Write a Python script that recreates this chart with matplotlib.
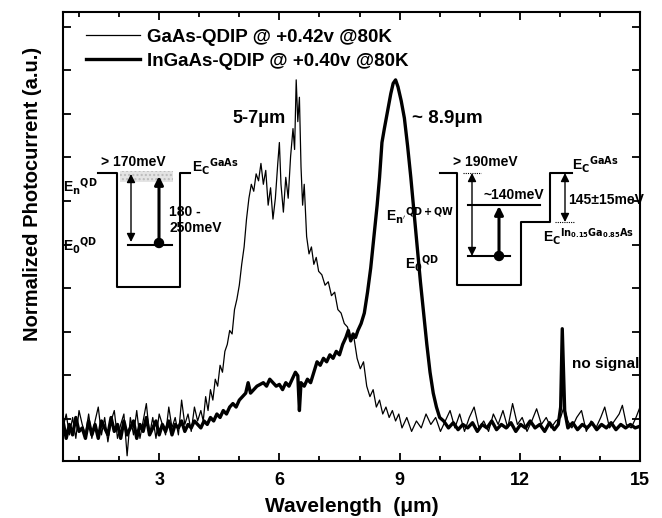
import matplotlib
matplotlib.use("Agg")
import matplotlib.pyplot as plt
from matplotlib.patches import Rectangle, Circle
from matplotlib.ticker import MultipleLocator

plt.rcParams['font.family'] = ['Liberation Sans', 'DejaVu Sans']
plt.rcParams['font.weight'] = 'bold'

# ---- data (normalized photocurrent, baseline ~0, peak = 1) ----
base_wl = [0.60, 0.68, 0.76, 0.84, 0.92, 1.00, 1.08, 1.16, 1.24, 1.32, 1.40,
           1.48, 1.56, 1.64, 1.72, 1.80, 1.88, 1.96, 2.04, 2.12, 2.20, 2.28,
           2.36, 2.44, 2.52, 2.60, 2.68, 2.76, 2.84, 2.92, 3.00, 3.08, 3.16,
           3.24, 3.32, 3.40, 3.48, 3.56, 3.64, 3.72, 3.80, 3.88, 3.96]

gaas_wl = base_wl + [
    4.04, 4.10, 4.16, 4.22, 4.28, 4.34, 4.40, 4.46, 4.52, 4.58, 4.64, 4.70,
    4.76, 4.82, 4.88, 4.94, 5.00, 5.06, 5.12, 5.18, 5.24, 5.30, 5.36, 5.42,
    5.48, 5.54, 5.60, 5.66, 5.72, 5.78, 5.84, 5.90, 5.96, 6.00, 6.04, 6.10,
    6.16, 6.22, 6.28, 6.34, 6.38, 6.42, 6.46, 6.50, 6.54, 6.58, 6.62, 6.68,
    6.74, 6.80, 6.86, 6.92, 6.98, 7.06, 7.14, 7.22, 7.30, 7.38, 7.46, 7.54,
    7.62, 7.70, 7.78, 7.86, 7.94, 8.02, 8.10, 8.18, 8.26, 8.34, 8.42, 8.50,
    8.58, 8.66, 8.74, 8.82, 8.90, 8.98,
    9.06, 9.18, 9.30, 9.42, 9.54, 9.66, 9.78, 9.90, 10.02, 10.14, 10.26,
    10.38, 10.50, 10.62, 10.74, 10.86, 10.98, 11.10, 11.22, 11.34, 11.46,
    11.58, 11.70, 11.82, 11.94, 12.06, 12.18, 12.30, 12.42, 12.54, 12.66,
    12.78, 12.90, 13.02, 13.10, 13.20, 13.30, 13.42, 13.54, 13.66, 13.78,
    13.90, 14.02, 14.12, 14.24, 14.36, 14.48, 14.56, 14.66, 14.78, 14.90,
    15.00]
gaas_pc = [
    0.00, 0.04, -0.02, 0.03, -0.03, 0.05, 0.01, -0.02, 0.04, -0.03, 0.02,
    0.06, -0.02, 0.03, -0.04, 0.02, 0.05, -0.03, 0.01, 0.04, -0.08, 0.03,
    -0.02, 0.05, -0.03, 0.02, 0.07, -0.02, 0.03, -0.03, 0.04, 0.01, -0.02,
    0.06, 0.00, 0.03, -0.02, 0.08, 0.01, 0.04, -0.01, 0.06, 0.02,
    0.05, 0.02, 0.09, 0.05, 0.11, 0.08, 0.14, 0.12, 0.18, 0.16, 0.22, 0.24,
    0.28, 0.27, 0.34, 0.37, 0.41, 0.47, 0.52, 0.60, 0.66, 0.70, 0.68, 0.73,
    0.71, 0.76, 0.70, 0.74, 0.64, 0.69, 0.60, 0.66, 0.76, 0.82, 0.70, 0.62,
    0.72, 0.66, 0.78, 0.86, 0.80, 1.00, 0.88, 0.95, 0.75, 0.64, 0.70, 0.55,
    0.50, 0.52, 0.47, 0.49, 0.45, 0.44, 0.41, 0.42, 0.38, 0.39, 0.34, 0.33,
    0.30, 0.29, 0.25, 0.26, 0.20, 0.17, 0.19, 0.12, 0.09, 0.11, 0.06, 0.08,
    0.04, 0.06, 0.03, 0.05, 0.02, 0.04,
    0.00, 0.03, -0.01, 0.02, 0.00, 0.04, 0.01, 0.03, -0.01, 0.02, 0.05,
    0.00, 0.04, -0.01, 0.03, 0.06, 0.00, 0.02, -0.01, 0.04, 0.01,
    0.05, 0.00, 0.07, 0.01, 0.03, -0.01, 0.02, 0.055, 0.01, 0.03,
    0.00, 0.02, 0.03, 0.06, 0.02, 0.00, 0.03, 0.05, -0.01, 0.02,
    0.00, 0.03, 0.06, 0.00, 0.02, 0.04, 0.065, 0.01, 0.00, 0.03,
    0.06]

ingaas_wl = base_wl + [
    4.04, 4.12, 4.20, 4.28, 4.36, 4.44, 4.52, 4.60, 4.68, 4.76, 4.84, 4.92,
    5.00, 5.08, 5.16, 5.22, 5.28, 5.36, 5.44, 5.52, 5.60, 5.68, 5.76, 5.84,
    5.92, 6.00, 6.08, 6.16, 6.24, 6.32, 6.40, 6.46, 6.50, 6.54, 6.62, 6.70,
    6.78, 6.86, 6.94, 7.02, 7.10, 7.18, 7.26, 7.34, 7.42, 7.50, 7.58, 7.66,
    7.72, 7.78, 7.84, 7.90, 7.96, 8.04, 8.12, 8.20, 8.28, 8.36, 8.44, 8.50,
    8.56, 8.62, 8.70, 8.78, 8.84, 8.90, 8.96, 9.04, 9.12, 9.20, 9.28, 9.36,
    9.44, 9.52, 9.60, 9.68, 9.76, 9.84, 9.92, 10.00, 10.10, 10.22, 10.34,
    10.46, 10.58, 10.70, 10.82, 10.94, 11.06, 11.18, 11.30, 11.42, 11.54,
    11.66, 11.78, 11.90, 12.02, 12.14, 12.26, 12.38, 12.50, 12.62, 12.74,
    12.86, 12.96, 13.02, 13.06, 13.12, 13.20, 13.32, 13.44, 13.56, 13.68,
    13.80, 13.92, 14.04, 14.16, 14.28, 14.40, 14.52, 14.64, 14.76, 14.88,
    15.00]
ingaas_pc = [
    0.02, -0.03, 0.01, -0.02, 0.03, -0.01, 0.00, -0.03, 0.02, -0.02, 0.01,
    -0.03, 0.02, 0.00, -0.02, 0.03, -0.01, 0.01, -0.03, 0.02, -0.02, 0.00,
    0.02, -0.03, 0.01, -0.01, 0.03, -0.02, 0.00, 0.02, -0.02, 0.01, -0.01,
    0.02, -0.02, 0.01, 0.00, 0.02, -0.01, 0.01, 0.00, 0.02, 0.01,
    0.00, 0.02, 0.01, 0.03, 0.02, 0.04, 0.03, 0.05, 0.04, 0.06, 0.07, 0.06,
    0.08, 0.09, 0.10, 0.13, 0.10, 0.11, 0.12, 0.125, 0.13, 0.12, 0.14, 0.13,
    0.12, 0.125, 0.11, 0.13, 0.12, 0.14, 0.16, 0.15, 0.05, 0.13, 0.12, 0.14,
    0.13, 0.16, 0.19, 0.18, 0.20, 0.19, 0.21, 0.20, 0.22, 0.21, 0.24, 0.26,
    0.28, 0.25, 0.27, 0.26, 0.28, 0.30, 0.33, 0.39, 0.46, 0.55, 0.64, 0.72,
    0.82, 0.86, 0.91, 0.96, 0.99, 1.00, 0.98, 0.94, 0.89, 0.81, 0.72, 0.62,
    0.52, 0.42, 0.33, 0.24, 0.16, 0.10, 0.06, 0.03, 0.02, 0.00, 0.015,
    -0.005, 0.01, 0.00, 0.015, -0.01, 0.01, 0.00, 0.02, -0.005, 0.01,
    0.00, 0.015, -0.01, 0.01, 0.00, 0.02, 0.00, 0.01, -0.01, 0.015,
    -0.005, 0.01, 0.06, 0.285, 0.05, 0.00, 0.015, -0.005, 0.01, 0.00,
    0.015, -0.005, 0.01, 0.00, 0.015, -0.005, 0.01, 0.00, 0.01, 0.00,
    0.005]

legend_labels = ["GaAs-QDIP @ +0.42v @80K", "InGaAs-QDIP @ +0.40v @80K"]

W, H = 662, 518
fig = plt.figure(figsize=(W / 100, H / 100), dpi=100)
ax = fig.add_axes([63 / W, (H - 461) / H, 577 / W, 449 / H])

ax.plot(gaas_wl, gaas_pc, color='black', lw=0.9, label=legend_labels[0])
ax.plot(ingaas_wl, ingaas_pc, color='black', lw=2.4, label=legend_labels[1])

ax.set_xlim(0.6, 15.0)
ax.set_ylim(-0.095, 1.195)
ax.xaxis.set_major_locator(MultipleLocator(3))
ax.xaxis.set_minor_locator(MultipleLocator(1))
ax.yaxis.set_major_locator(MultipleLocator(0.125, offset=0.027))
ax.set_yticklabels([])
ax.tick_params(which='both', direction='in', top=True, right=True, width=1.3)
ax.tick_params(which='major', length=6, labelsize=13, pad=8)
ax.tick_params(which='minor', length=3.5)
for lab in ax.get_xticklabels():
    lab.set_fontweight('bold')
for s in ax.spines.values():
    s.set_linewidth(1.5)

ax.set_xlabel("Wavelength  (\u03bcm)", fontsize=15, fontweight='bold', labelpad=6)
fig.text(33 / W, 1 - 194 / H, "Normalized Photocurrent (a.u.)", rotation=90,
         ha='center', va='center', fontsize=14.5, fontweight='bold')

ax.legend(loc='upper left', bbox_to_anchor=(0.01, 1.0), frameon=False,
          handlelength=2.9, handletextpad=0.35, labelspacing=0.35,
          prop={'weight': 'bold', 'size': 13.5})

ax.text(6.15, 0.89, "5-7\u03bcm", fontsize=13, fontweight='bold', ha='right', va='center')
ax.text(9.3, 0.89, "~ 8.9\u03bcm", fontsize=13.5, fontweight='bold', ha='left', va='center')
ax.text(13.3, 0.185, "no signal", fontsize=11, fontweight='bold', ha='left', va='center')

# ---- band diagram insets (figure pixel coordinates) ----
ov = fig.add_axes([0, 0, 1, 1], facecolor='none')
ov.set_xlim(0, W)
ov.set_ylim(H, 0)
ov.axis('off')

def arrow(x, y0, y1, lw, both=False):
    st = '<|-|>' if both else '-|>'
    ov.annotate('', xy=(x, y1), xytext=(x, y0),
                arrowprops=dict(arrowstyle=st + ',head_length=0.5,head_width=0.25',
                                lw=lw, color='black', shrinkA=0, shrinkB=0))

# left inset: GaAs QD
ov.plot([98, 117, 117, 180, 180, 190], [173, 173, 287, 287, 173, 173], color='black', lw=1.5)
ov.add_patch(Rectangle((120, 171), 53, 11, facecolor='#e4e4e4', edgecolor='#bbbbbb',
                       hatch='....', lw=0))
ov.plot([128, 172], [245, 245], color='black', lw=1.5)
ov.add_patch(Circle((159, 243), 4.5, color='black'))
arrow(131, 242, 174, 1.0, both=True)
arrow(159, 240, 176, 2.2)
ov.text(133, 162, "> 170meV", fontsize=10, fontweight='bold', ha='center', va='center')
ov.text(192, 166, "E$_{\\mathbf{C}}$$^{\\mathbf{GaAs}}$", fontsize=10, fontweight='bold', ha='left', va='center')
ov.text(80, 186, "E$_{\\mathbf{n}}$$^{\\mathbf{QD}}$", fontsize=10, fontweight='bold', ha='center', va='center')
ov.text(80, 246, "E$_{\\mathbf{0}}$$^{\\mathbf{QD}}$", fontsize=10, fontweight='bold', ha='center', va='center')
ov.text(169, 212, "180 -", fontsize=10, fontweight='bold', ha='left', va='center')
ov.text(169, 228, "250meV", fontsize=10, fontweight='bold', ha='left', va='center')

# right inset: InGaAs QD in well
ov.plot([440, 457, 457, 521, 521, 550, 550, 572],
        [173, 173, 285, 285, 222, 222, 173, 173], color='black', lw=1.5)
ov.plot([463, 481], [173, 173], color='black', lw=0.8, ls=(0, (1, 1)))
ov.plot([555, 574], [222, 222], color='black', lw=0.8, ls=(0, (1, 1)))
ov.plot([468, 540], [205, 205], color='black', lw=1.5)
ov.plot([468, 510], [256, 256], color='black', lw=1.5)
ov.add_patch(Circle((499, 256), 4.5, color='black'))
arrow(472, 256, 173, 1.0, both=True)
arrow(499, 254, 206, 2.2)
arrow(565, 222, 173, 1.0, both=True)
ov.text(453, 162, "> 190meV", fontsize=10, fontweight='bold', ha='left', va='center')
ov.text(483, 195, "~140meV", fontsize=10, fontweight='bold', ha='left', va='center')
ov.text(572, 164, "E$_{\\mathbf{C}}$$^{\\mathbf{GaAs}}$", fontsize=10, fontweight='bold', ha='left', va='center')
ov.text(568, 200, "145\u00b115meV", fontsize=10, fontweight='bold', ha='left', va='center')
ov.text(543, 236, "E$_{\\mathbf{C}}$$^{\\mathbf{In_{0.15}Ga_{0.85}As}}$", fontsize=10, fontweight='bold', ha='left', va='center')
ov.text(420, 215, "E$_{\\mathbf{n'}}$$^{\\mathbf{QD+QW}}$", fontsize=10, fontweight='bold', ha='center', va='center')
ov.text(422, 264, "E$_{\\mathbf{0}}$$^{\\mathbf{QD}}$", fontsize=10, fontweight='bold', ha='center', va='center')

fig.savefig("out.png", dpi=100)
